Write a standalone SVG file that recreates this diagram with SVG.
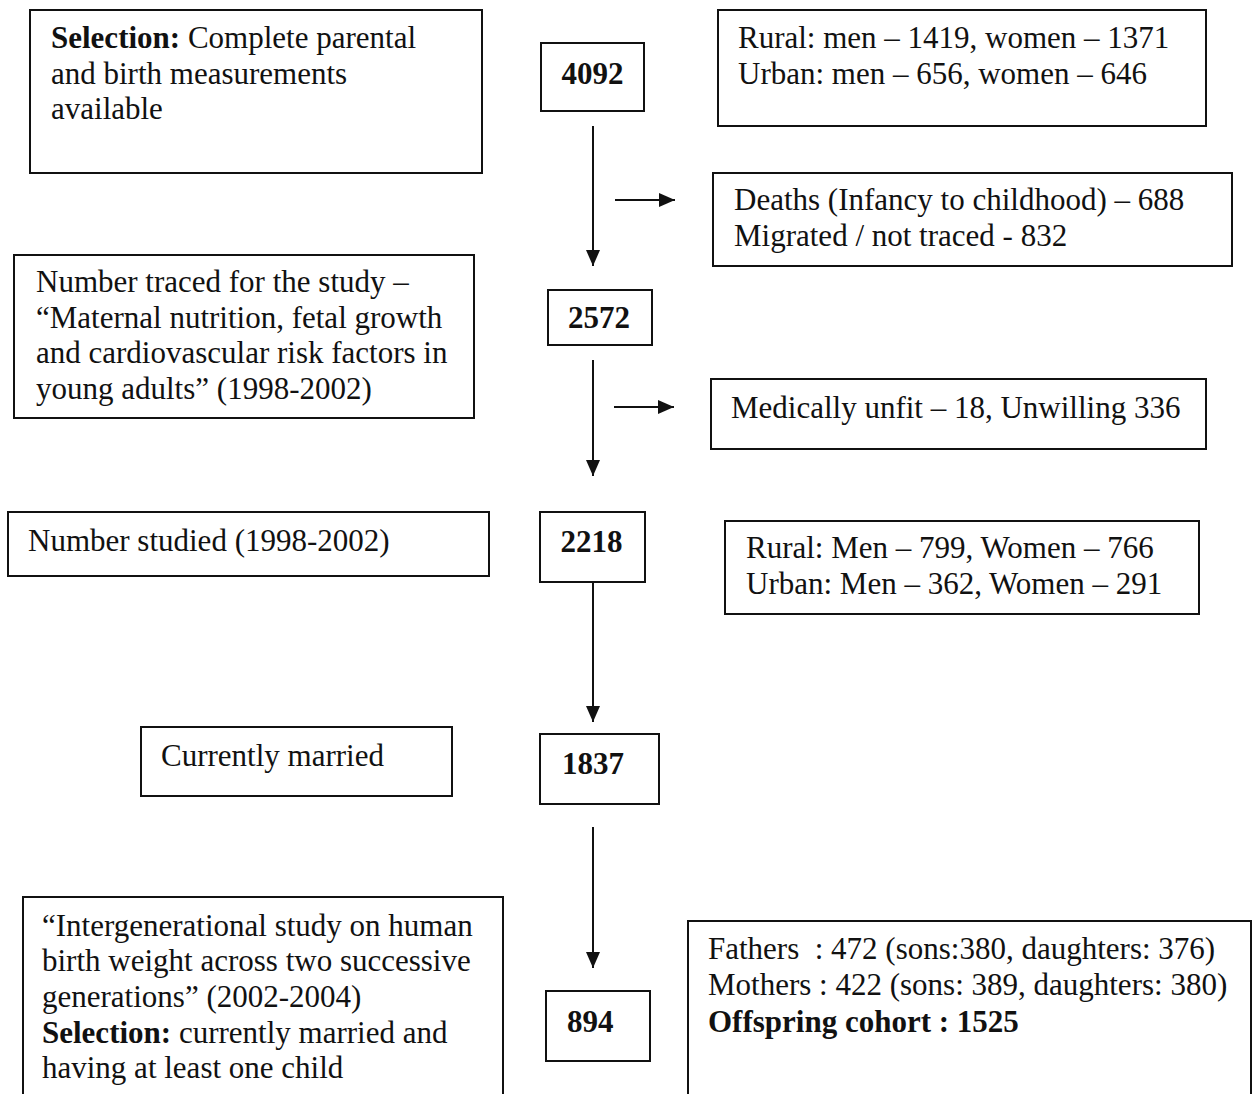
<svg xmlns="http://www.w3.org/2000/svg" width="1256" height="1094" viewBox="0 0 1256 1094">
<style>
rect{fill:#fff;stroke:#111;stroke-width:2}
text{font-family:"Liberation Serif","Times New Roman",serif;font-size:31px;fill:#111}
.b{font-weight:bold}
.c{stroke:#111;stroke-width:2;fill:none}
</style>
<defs>
<marker id="ah" markerUnits="userSpaceOnUse" markerWidth="16" markerHeight="16" viewBox="0 0 16 14" refX="16" refY="7" orient="auto">
<path d="M0,0 L16,7 L0,14 Z" fill="#111"/>
</marker>
</defs>
<rect x="0" y="0" width="1256" height="1094" style="stroke:none"/>
<g id="connectors">
<line class="c" x1="593" y1="126" x2="593" y2="266" marker-end="url(#ah)"/>
<line class="c" x1="615" y1="200" x2="675" y2="200" marker-end="url(#ah)"/>
<line class="c" x1="593" y1="360" x2="593" y2="476" marker-end="url(#ah)"/>
<line class="c" x1="614" y1="407" x2="674" y2="407" marker-end="url(#ah)"/>
<line class="c" x1="593" y1="582" x2="593" y2="722" marker-end="url(#ah)"/>
<line class="c" x1="593" y1="827" x2="593" y2="968" marker-end="url(#ah)"/>
</g>
<g id="selection">
<rect x="30" y="10" width="452" height="163"/>
<text x="51" y="48"><tspan class="b">Selection:</tspan> Complete parental</text>
<text x="51" y="84">and birth measurements</text>
<text x="51" y="119">available</text>
</g>
<g id="n4092">
<rect x="541" y="43" width="103" height="68"/>
<text class="b" x="592.5" y="84" text-anchor="middle">4092</text>
</g>
<g id="rural1">
<rect x="718" y="10" width="488" height="116"/>
<text x="738" y="48">Rural: men – 1419, women – 1371</text>
<text x="738" y="84">Urban: men – 656, women – 646</text>
</g>
<g id="deaths">
<rect x="713" y="173" width="519" height="93"/>
<text x="734" y="210">Deaths (Infancy to childhood) – 688</text>
<text x="734" y="246">Migrated / not traced - 832</text>
</g>
<g id="traced">
<rect x="14" y="255" width="460" height="163"/>
<text x="36" y="292">Number traced for the study –</text>
<text x="36" y="328">“Maternal nutrition, fetal growth</text>
<text x="36" y="363">and cardiovascular risk factors in</text>
<text x="36" y="399">young adults” (1998-2002)</text>
</g>
<g id="n2572">
<rect x="548" y="290" width="104" height="55"/>
<text class="b" x="599" y="328" text-anchor="middle">2572</text>
</g>
<g id="unfit">
<rect x="711" y="379" width="495" height="70"/>
<text x="731" y="418">Medically unfit – 18, Unwilling 336</text>
</g>
<g id="studied">
<rect x="8" y="512" width="481" height="64"/>
<text x="28" y="551">Number studied (1998-2002)</text>
</g>
<g id="n2218">
<rect x="540" y="512" width="105" height="70"/>
<text class="b" x="591.5" y="552" text-anchor="middle">2218</text>
</g>
<g id="rural2">
<rect x="725" y="521" width="474" height="93"/>
<text x="746" y="558">Rural: Men – 799, Women – 766</text>
<text x="746" y="594">Urban: Men – 362, Women – 291</text>
</g>
<g id="married">
<rect x="141" y="727" width="311" height="69"/>
<text x="161" y="766">Currently married</text>
</g>
<g id="n1837">
<rect x="540" y="734" width="119" height="70"/>
<text class="b" x="562" y="774">1837</text>
</g>
<g id="intergen">
<rect x="23" y="897" width="480" height="210"/>
<text x="42" y="936">“Intergenerational study on human</text>
<text x="42" y="971">birth weight across two successive</text>
<text x="42" y="1007">generations” (2002-2004)</text>
<text x="42" y="1043"><tspan class="b">Selection:</tspan> currently married and</text>
<text x="42" y="1078">having at least one child</text>
</g>
<g id="n894">
<rect x="546" y="991" width="104" height="70"/>
<text class="b" x="567" y="1032">894</text>
</g>
<g id="parents">
<rect x="688" y="921" width="563" height="190"/>
<text x="708" y="959" xml:space="preserve">Fathers  : 472 (sons:380, daughters: 376)</text>
<text x="708" y="995">Mothers : 422 (sons: 389, daughters: 380)</text>
<text class="b" x="708" y="1032">Offspring cohort : 1525</text>
</g>
</svg>
